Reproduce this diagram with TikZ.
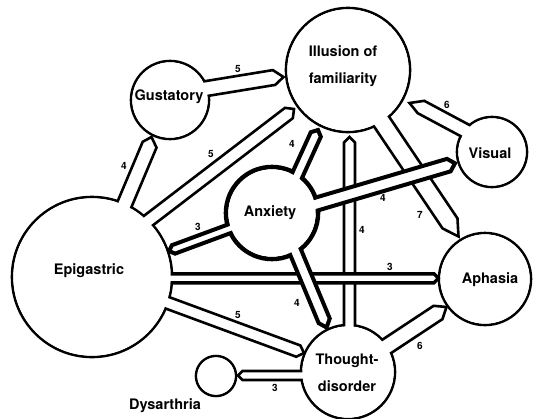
\documentclass[tikz,border=0pt]{standalone}
\usepackage{fontspec}
\setmainfont{TeX Gyre Heros}
\usetikzlibrary{calc}
\newcommand\bandpoly[5][]{%
  \filldraw[bandline,#1] ($(#2)!#5!90:(#3)$) -- ($(#3)!#5!-90:(#2)$) -- (#4) -- ($(#3)!#5!90:(#2)$) -- ($(#2)!#5!-90:(#3)$) -- cycle;
}
\begin{document}
\begin{tikzpicture}[x=1pt,y=-1pt,
  blob/.style={circle, draw, line width=2.6pt, inner sep=0pt, outer sep=0pt},
  thickblob/.style={blob, line width=4.6pt},
  bandline/.style={fill=white, draw=black, line width=2.6pt, line join=miter},
  heavy/.style={line width=4pt},
  medium/.style={line width=3.4pt},
  lbl/.style={font=\fontsize{14.5}{27}\selectfont\bfseries, align=center, inner sep=0pt},
  num/.style={font=\fontsize{10}{12}\selectfont\bfseries, inner sep=0pt}]
\useasboundingbox (0,0) rectangle (538,418);
% circles (outlines)
\node[blob, minimum size=124pt] (ill) at (348,70) {};
\node[blob, minimum size=78pt] (gus) at (170,100) {};
\node[blob, minimum size=70pt] (vis) at (492,152) {};
\node[blob, minimum size=92pt] (aph) at (485,279) {};
\node[thickblob, minimum size=92pt] (anx) at (272,213) {};
\node[blob, minimum size=160pt] (epi) at (92,277) {};
\node[blob, minimum size=94pt] (tho) at (348,372) {};
\node[blob, minimum size=40pt] (dys) at (216,376) {};
% band coordinates
\coordinate (giA) at (170,94.5); \coordinate (giB) at (274,77.5); \coordinate (giT) at (283.5,77);
\coordinate (egA) at (120,215); \coordinate (egB) at (149.6,144.7); \coordinate (egT) at (151.5,137);
\coordinate (eiA) at (110,250); \coordinate (eiB) at (288.9,113); \coordinate (eiT) at (294,109);
\coordinate (aiA) at (280,213); \coordinate (aiB) at (315.8,134.5); \coordinate (aiT) at (318,130);
\coordinate (aeA) at (272,213); \coordinate (aeB) at (173.5,249.4); \coordinate (aeT) at (169,251);
\coordinate (avA) at (276,216); \coordinate (avB) at (448.8,165.1); \coordinate (avT) at (455,163.3);
\coordinate (atA) at (278,210); \coordinate (atB) at (324.2,320.8); \coordinate (atT) at (326.6,327.5);
\coordinate (epA) at (92,278.3); \coordinate (epB) at (434,278.3); \coordinate (epT) at (438.5,278.3);
\coordinate (etA) at (110.7,281.9); \coordinate (etB) at (298.3,351.1); \coordinate (etT) at (304,353);
\coordinate (tiA) at (349.5,372); \coordinate (tiB) at (349.5,142.5); \coordinate (tiT) at (349.5,137);
\coordinate (iaA) at (366.3,98.9); \coordinate (iaB) at (450,223.4); \coordinate (iaT) at (458.5,236.5);
\coordinate (viA) at (492,145); \coordinate (viB) at (421,107); \coordinate (viT) at (409.5,103);
\coordinate (taA) at (354.6,367.6); \coordinate (taB) at (438,312.5); \coordinate (taT) at (446.5,307);
\coordinate (tdA) at (348,375.5); \coordinate (tdB) at (242.5,375.5); \coordinate (tdT) at (238,375.5);
% bands (order sets crossings)
\bandpoly{tiA}{tiB}{tiT}{5.5pt}
\bandpoly{iaA}{iaB}{iaT}{9pt}
\bandpoly[medium]{epA}{epB}{epT}{4.5pt}
\bandpoly[heavy]{avA}{avB}{avT}{6.5pt}
\bandpoly[heavy]{atA}{atB}{atT}{6pt}
\bandpoly[heavy]{aiA}{aiB}{aiT}{5.5pt}
\bandpoly[heavy]{aeA}{aeB}{aeT}{4.5pt}
\bandpoly{giA}{giB}{giT}{7.5pt}
\bandpoly{egA}{egB}{egT}{7.5pt}
\bandpoly{eiA}{eiB}{eiT}{6.5pt}
\bandpoly{etA}{etB}{etT}{6pt}
\bandpoly{viA}{viB}{viT}{7pt}
\bandpoly{taA}{taB}{taT}{8pt}
\bandpoly{tdA}{tdB}{tdT}{4.5pt}
% circle interiors
\fill[white] (ill.center) circle[radius=60.7pt];
\fill[white] (gus.center) circle[radius=37.7pt];
\fill[white] (vis.center) circle[radius=33.7pt];
\fill[white] (aph.center) circle[radius=44.7pt];
\fill[white] (anx.center) circle[radius=43.7pt];
\fill[white] (epi.center) circle[radius=78.7pt];
\fill[white] (tho.center) circle[radius=45.7pt];
\fill[white] (dys.center) circle[radius=18.7pt];
% texts
\node[lbl] (illT) at (343,66) {Illusion of\\familiarity};
\node[lbl] (gusT) at (169,97) {Gustatory};
\node[lbl] (visT) at (490,153) {Visual};
\node[lbl] (aphT) at (490,280) {Aphasia};
\node[lbl] (anxT) at (270,213) {Anxiety};
\node[lbl] (epiT) at (89,271) {Epigastric};
\node[lbl] (thoT) at (347,373) {Thought-\\disorder};
\node[lbl] (dysT) at (165,406) {Dysarthria};
% numbers
\node[num] (n1) at (238,69) {5};
\node[num] (n2) at (124,166) {4};
\node[num] (n3) at (211,154) {5};
\node[num] (n4) at (292,144) {4};
\node[num] (n5) at (198,227) {3};
\node[num] (n6) at (383,198) {4};
\node[num] (n7) at (297,303) {4};
\node[num] (n8) at (390,267) {3};
\node[num] (n9) at (238,315) {5};
\node[num] (n10) at (362,230) {4};
\node[num] (n11) at (420,215) {7};
\node[num] (n12) at (447,105) {6};
\node[num] (n13) at (420,346) {6};
\node[num] (n14) at (275,388) {3};
\end{tikzpicture}
\end{document}
